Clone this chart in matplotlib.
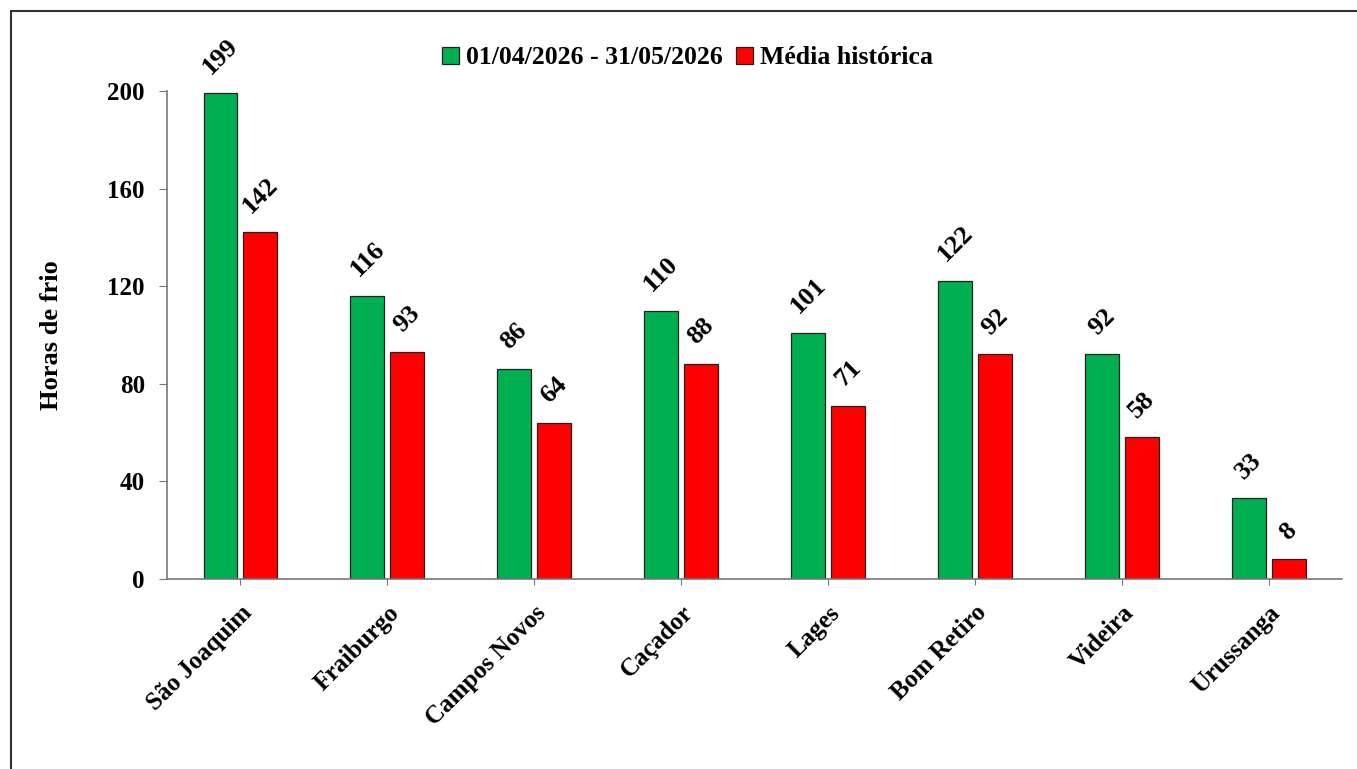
"""Horas de frio por estação: período atual vs média histórica."""

import matplotlib.pyplot as plt
import numpy as np
from matplotlib.patches import Rectangle

plt.rcParams["font.family"] = ["Liberation Serif", "DejaVu Serif"]
plt.rcParams["font.weight"] = "bold"

estacoes = ["São Joaquim", "Fraiburgo", "Campos Novos", "Caçador",
            "Lages", "Bom Retiro", "Videira", "Urussanga"]
periodo_atual = [199, 116, 86, 110, 101, 122, 92, 33]
media_historica = [142, 93, 64, 88, 71, 92, 58, 8]
rotulo_atual = "01/04/2026 - 31/05/2026"
rotulo_media = "Média histórica"

fig = plt.figure(figsize=(13.57, 7.69), dpi=100)
ax = fig.add_axes([0.1231, 0.2471, 0.8659, 0.6346])

x = np.arange(len(estacoes))
largura = 0.231
desloc = 0.136

b1 = ax.bar(x - desloc, periodo_atual, largura, color="#00B050",
            edgecolor="#222222", linewidth=0.9, label=rotulo_atual)
b2 = ax.bar(x + desloc, media_historica, largura, color="#FF0000",
            edgecolor="#222222", linewidth=0.9, label=rotulo_media)

for barras in (b1, b2):
    for rect in barras:
        h = rect.get_height()
        ax.annotate(f"{h:.0f}", (rect.get_x() + rect.get_width() / 2, h),
                    xytext=(0, 11), textcoords="offset points",
                    ha="center", va="bottom", rotation=45,
                    fontsize=19, fontweight="bold")

ax.set_xlim(-0.5, len(estacoes) - 0.5)
ax.set_ylim(0, 200)
ax.set_yticks(np.arange(0, 201, 40))
ax.set_xticks(x)
ax.set_xticklabels(estacoes, rotation=45, ha="right", rotation_mode="anchor",
                   fontsize=18, fontweight="bold")
ax.tick_params(axis="y", labelsize=18, length=6, color="#777777", pad=10)
ax.tick_params(axis="x", length=4, color="#777777", pad=12)
ax.set_ylabel("Horas de frio", fontsize=19, fontweight="bold", labelpad=32)

for lado in ("top", "right"):
    ax.spines[lado].set_visible(False)
for lado in ("left", "bottom"):
    ax.spines[lado].set_color("#777777")
    ax.spines[lado].set_linewidth(1.2)

ax.legend(loc="center", bbox_to_anchor=(0.443, 1.068), ncol=2, frameon=False,
          fontsize=18.5, handlelength=0.65, handleheight=0.65, handletextpad=0.3,
          columnspacing=0.5, borderaxespad=0)

# moldura externa
fig.patches.append(Rectangle((11 / 1357, -0.1), 1.2, (769 - 11) / 769 + 0.1,
                             transform=fig.transFigure, fill=False,
                             edgecolor="#333333", linewidth=1.5))

fig.savefig("out.png", dpi=100)
